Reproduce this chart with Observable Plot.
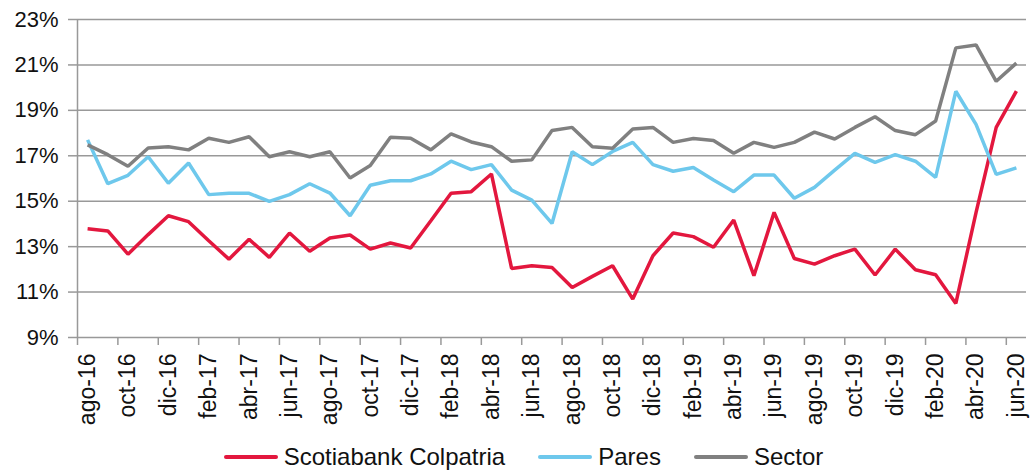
<!DOCTYPE html>
<html>
<head>
<meta charset="utf-8">
<script src="https://cdn.jsdelivr.net/npm/d3@7"></script>
<script src="https://cdn.jsdelivr.net/npm/@observablehq/plot@0.6"></script>
<style>
  body { margin: 0; background: #fff; font-family: "Liberation Sans", Arial, sans-serif; }
  #legend { display: flex; justify-content: center; align-items: center; height: 36px; padding-left: 16px; padding-top: 8px; box-sizing: border-box; font-size: 24px; color: #111; }
  .item { display: flex; align-items: center; margin-right: 33px; }
  .item:last-child { margin-right: 0; }
  .sw { width: 54px; height: 4px; margin-right: 6px; border-radius: 2px; }
</style>
</head>
<body>
<div id="chart"></div>
<div id="legend"></div>
<script>
const months = ["ago-16","sep-16","oct-16","nov-16","dic-16",
  "ene-17","feb-17","mar-17","abr-17","may-17","jun-17","jul-17","ago-17","sep-17","oct-17","nov-17","dic-17",
  "ene-18","feb-18","mar-18","abr-18","may-18","jun-18","jul-18","ago-18","sep-18","oct-18","nov-18","dic-18",
  "ene-19","feb-19","mar-19","abr-19","may-19","jun-19","jul-19","ago-19","sep-19","oct-19","nov-19","dic-19",
  "ene-20","feb-20","mar-20","abr-20","may-20","jun-20"];

const scotiabank = [13.79,13.69,12.67,13.53,14.36,14.10,13.26,12.45,13.32,12.53,13.60,12.80,13.38,13.51,12.89,13.16,12.94,
  14.14,15.35,15.42,16.20,12.04,12.16,12.08,11.20,11.69,12.16,10.69,12.60,
  13.60,13.44,12.97,14.17,11.72,14.51,12.48,12.23,12.60,12.89,11.75,12.89,
  11.98,11.76,10.50,14.50,18.25,19.85];

const pares = [17.70,15.77,16.14,16.96,15.79,16.68,15.29,15.35,15.35,14.99,15.29,15.77,15.36,14.36,15.70,15.90,15.90,
  16.20,16.76,16.39,16.61,15.49,15.05,14.02,17.18,16.61,17.19,17.59,16.61,
  16.32,16.48,15.93,15.42,16.15,16.15,15.13,15.61,16.37,17.11,16.71,17.05,
  16.76,16.05,19.84,18.38,16.18,16.47];

const sector = [17.48,17.05,16.54,17.34,17.40,17.26,17.77,17.59,17.84,16.96,17.18,16.96,17.18,16.02,16.57,17.82,17.77,
  17.26,17.96,17.61,17.40,16.76,16.82,18.11,18.25,17.40,17.33,18.18,18.25,
  17.59,17.76,17.67,17.11,17.59,17.37,17.59,18.04,17.74,18.25,18.72,18.11,
  17.93,18.53,21.75,21.88,20.28,21.08];

const seriesNames = ["Scotiabank Colpatria", "Pares", "Sector"];
const seriesColors = ["#E3173E", "#6EC8EC", "#808080"];
const yTicks = [9, 11, 13, 15, 17, 19, 21, 23];

const seriesValues = [scotiabank, pares, sector];
const data = [];
seriesNames.forEach((name, s) => {
  seriesValues[s].forEach((v, i) => data.push({serie: name, i, month: months[i], value: v}));
});

const idx = months.map((m, i) => i);
const labelIdx = idx.filter(i => i % 2 === 0);
const boundaryIdx = idx.filter(i => i % 2 === 0).map(i => i - 0.5);
const xDomain = [-0.5, months.length - 0.5];

const chart = Plot.plot({
  width: 1031,
  height: 435,
  marginLeft: 77,
  marginRight: 5,
  marginTop: 19,
  marginBottom: 98,
  style: { fontFamily: "'Liberation Sans', Arial, sans-serif", color: "#111", background: "#fff" },
  x: { type: "linear", domain: xDomain },
  y: { domain: [9, 23] },
  color: { domain: seriesNames, range: seriesColors },
  marks: [
    Plot.gridY(yTicks, { stroke: "#999", strokeOpacity: 1, strokeWidth: 1.5 }),
    Plot.ruleX([xDomain[0]], { stroke: "#999", strokeWidth: 1.5 }),
    Plot.axisY(yTicks, { tickFormat: d => d + "%", tickSize: 9, tickPadding: 10, fontSize: 22, stroke: "#999", strokeWidth: 1.5, label: null }),
    Plot.axisX(boundaryIdx, { tickFormat: () => "", tickSize: 8, stroke: "#999", strokeWidth: 1.5, label: null }),
    Plot.axisX(labelIdx, { tickFormat: i => months[i], tickSize: 0, tickPadding: 16, tickRotate: -90, fontSize: 23, label: null }),
    Plot.line(data, { x: "i", y: "value", z: "serie", stroke: "serie", strokeWidth: 3.5, strokeLinejoin: "miter", strokeLinecap: "butt" })
  ]
});
document.getElementById("chart").appendChild(chart);

const legend = document.getElementById("legend");
seriesNames.forEach((name, s) => {
  const item = document.createElement("div");
  item.className = "item";
  const sw = document.createElement("div");
  sw.className = "sw";
  sw.style.background = seriesColors[s];
  const t = document.createElement("span");
  t.textContent = name;
  item.appendChild(sw);
  item.appendChild(t);
  legend.appendChild(item);
});
</script>
</body>
</html>
